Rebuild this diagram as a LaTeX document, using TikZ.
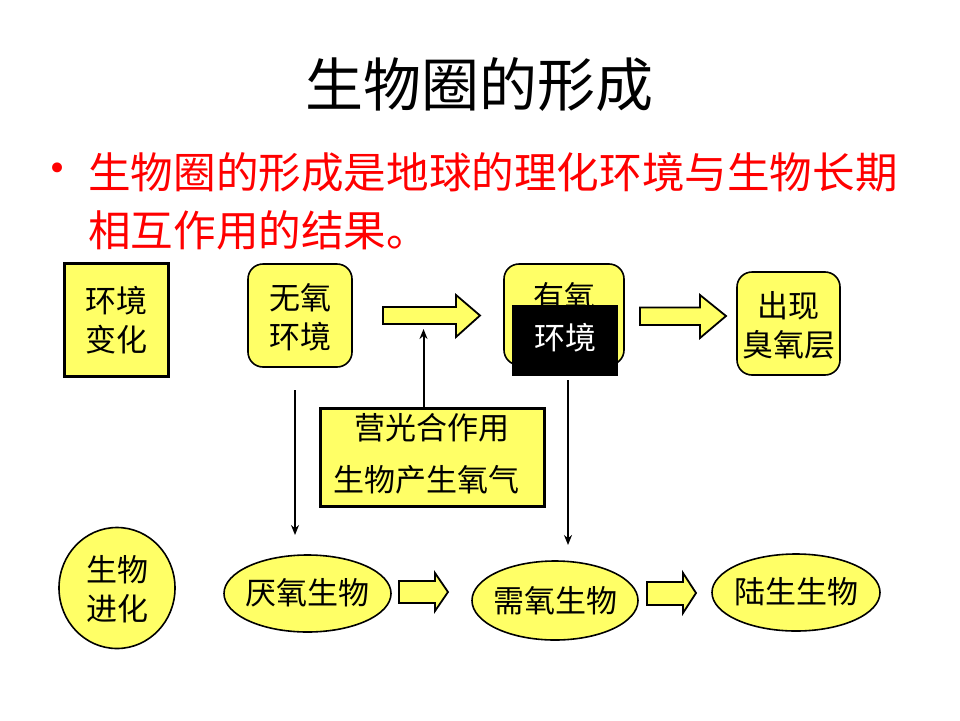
\documentclass[tikz,border=0pt]{standalone}
\usepackage{fontspec}
\setmainfont{Noto Sans CJK SC}
\newfontfamily\symfont{DejaVu Sans}
\usetikzlibrary{shapes.geometric,arrows.meta}
\definecolor{boxyellow}{HTML}{FFFF66}
\definecolor{textred}{HTML}{FF0000}
\begin{document}
\begin{tikzpicture}[x=1pt,y=-1pt,
  boxtext/.style={font=\fontsize{31}{39}\selectfont, align=center, inner sep=0pt},
  sqbox/.style={draw=black, line width=3pt, fill=boxyellow, inner sep=0pt},
  rbox/.style={draw=black, line width=1.6pt, fill=boxyellow, rounded corners=15pt, inner sep=0pt},
  oval/.style={ellipse, draw=black, line width=1.6pt, fill=boxyellow, inner sep=0pt},
  blockarrow/.style={draw=black, line width=1.8pt, fill=boxyellow, line join=miter},
  link/.style={line width=2pt, -{Stealth[length=10pt,width=8pt]}}
]
\useasboundingbox (0,0) rectangle (960,720);

% title and text
\node[font=\fontsize{58}{60}\selectfont] (title) at (479,85) {生物圈的形成};
\node[text=textred, inner sep=0pt, font=\symfont\fontsize{34}{34}\selectfont] (bullet) at (58,172) {•};
\node[anchor=west, text=textred, inner sep=0pt, font=\fontsize{42.6}{50}\selectfont] (line1) at (88,172) {生物圈的形成是地球的理化环境与生物长期};
\node[anchor=west, text=textred, inner sep=0pt, font=\fontsize{42.6}{50}\selectfont] (line2) at (88,230) {相互作用的结果。};

% top row
\node[sqbox, minimum width=104pt, minimum height=113pt] (hjbh) at (116,320) {};
\node[boxtext] (hjbht) at (116,320) {环境\\变化};

\node[rbox, minimum width=104pt, minimum height=103pt] (wy) at (300,315.5) {};
\node[boxtext] (wyt) at (300,317) {无氧\\环境};

\node[rbox, minimum width=120pt, minimum height=101pt] (yy) at (564,314.5) {};
\node[boxtext] (yyt) at (564,297) {有氧};
\node[fill=black, minimum width=106pt, minimum height=71pt, inner sep=0pt] (yyb) at (565,340.5) {};
\node[boxtext, text=white] (yybt) at (565,338) {环境};

\node[rbox, minimum width=103pt, minimum height=103pt] (cx) at (788.5,323.5) {};
\node[boxtext] (cxt) at (788.5,325) {出现\\臭氧层};

% block arrows (top)
\draw[blockarrow] (383,307) -- (456,307) -- (456,295) -- (480,315.5) -- (456,337) -- (456,324) -- (383,324) -- cycle;
\draw[blockarrow] (640,307.5) -- (700,307.5) -- (700,295) -- (726,316) -- (700,338) -- (700,325) -- (640,325) -- cycle;

% photosynthesis box
\node[sqbox, minimum width=224pt, minimum height=98pt] (gh) at (432,457) {};
\node[boxtext] (ght1) at (432,428) {营光合作用};
\node[boxtext, anchor=west] (ght2) at (333,480) {生物产生氧气};

% bottom row
\node[oval, minimum width=116pt, minimum height=121pt] (swjh) at (117,588) {};
\node[boxtext] (swjht) at (117,589) {生物\\进化};

\node[oval, minimum width=167pt, minimum height=77pt] (yyang) at (307.5,593.5) {};
\node[boxtext] (yyangt) at (307.5,593) {厌氧生物};

\node[oval, minimum width=166pt, minimum height=79pt] (xy) at (555,600.5) {};
\node[boxtext] (xyt) at (555,601) {需氧生物};

\node[oval, minimum width=168pt, minimum height=77pt] (ls) at (796,592.5) {};
\node[boxtext] (lst) at (796,592) {陆生生物};

\draw[blockarrow] (399,581) -- (435,581) -- (435,573) -- (448,592) -- (435,611) -- (435,603) -- (399,603) -- cycle;
\draw[blockarrow] (647,582) -- (683,582) -- (683,573) -- (696,593) -- (683,613) -- (683,605) -- (647,605) -- cycle;

% connectors
\coordinate (c1a) at (295,390);
\coordinate (c1b) at (295,535);
\coordinate (c2a) at (568,380);
\coordinate (c2b) at (568,545);
\coordinate (c3b) at (423.5,329);
\draw[link] (c1a) -- (c1b);
\draw[link] (c2a) -- (c2b);
\draw[link] (gh.north -| c3b) -- (c3b);
\end{tikzpicture}
\end{document}
